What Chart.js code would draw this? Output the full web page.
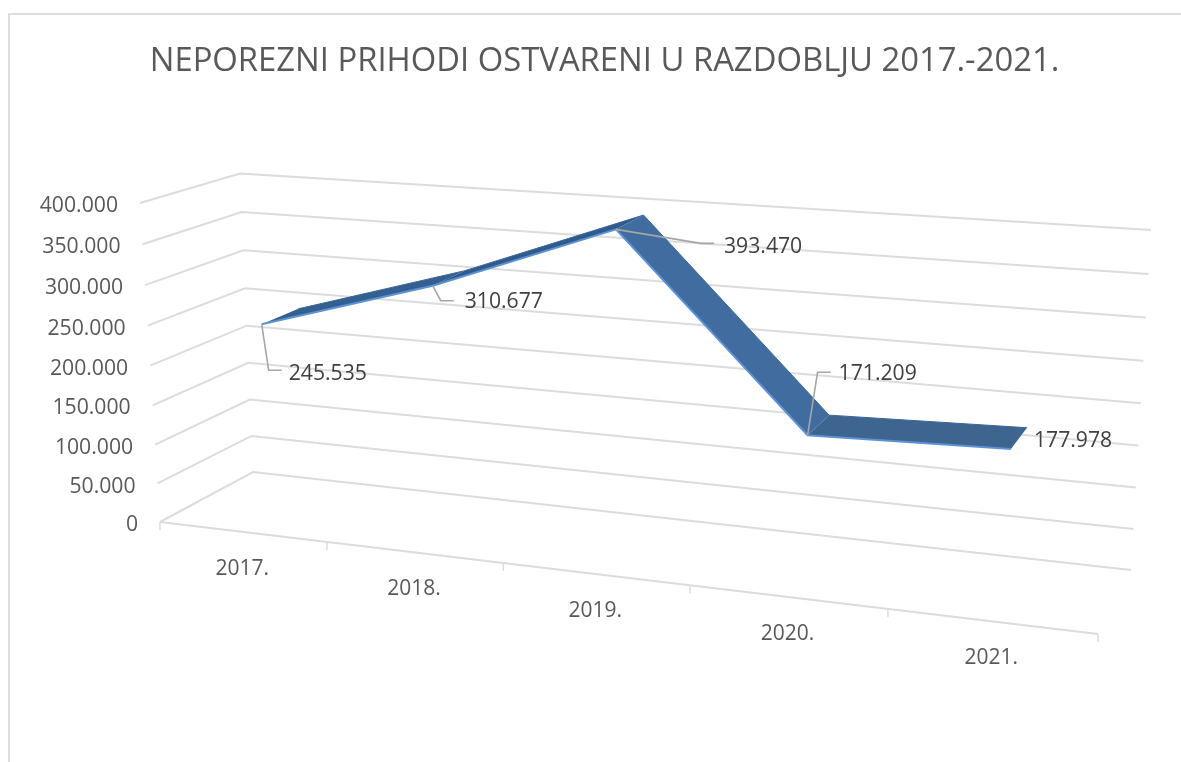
<!DOCTYPE html>
<html>
<head>
<meta charset="utf-8">
<title>Neporezni prihodi</title>
<script src="https://cdn.jsdelivr.net/npm/chart.js@4"></script>
<style>
  html, body { margin: 0; background: #fff; }
  canvas { display: block; }
</style>
</head>
<body>
<canvas id="myChart" width="1181" height="762"></canvas>
<script>
const categories = ['2017.', '2018.', '2019.', '2020.', '2021.'];
const prihodi = [245535, 310677, 393470, 171209, 177978];
const prihodiLabels = ['245.535', '310.677', '393.470', '171.209', '177.978'];
const yTickLabels = ['0', '50.000', '100.000', '150.000', '200.000', '250.000', '300.000', '350.000', '400.000'];

// corners of the 3D box on screen, f = front, b = back
const box = {
  fBottomLeft: [160, 522], fBottomRight: [1098, 634], fTopLeft: [140, 203], fTopRight: [1118, 272],
  bBottomLeft: [253, 472], bBottomRight: [1131, 570], bTopLeft: [240, 173.5], bTopRight: [1151, 230]
};
const perspectiveX = 1.1545;
const perspectiveY = 1.04;

const gridColor = '#dcdcdc';
const leaderColor = '#a6a6a6';
const faceColors = ['#34608f', '#2f5a8b', '#416c9f', '#3e6490'];
const font = '"Open Sans", sans-serif';

// where each data label sits, relative to its point on the front edge
const labelOffsets = [[27, 50], [32, 16], [108, 18], [31, -61], [23, -8]];
// elbow of the leader line, relative to the same point (null = no leader)
const leaderElbows = [[7, 46], [8, 15], [85, 14], [10, -63], null];

function warp(t, r) {
  return t / (t + (1 - t) * r);
}

function lerp(a, b, t) {
  return [a[0] + (b[0] - a[0]) * t, a[1] + (b[1] - a[1]) * t];
}

// u, v, w all 0..1 : along the categories, up the value axis, into the depth
function project(u, v, w) {
  const s = warp(u, perspectiveX);
  const t = warp(v, perspectiveY);
  const front = lerp(lerp(box.fBottomLeft, box.fBottomRight, s), lerp(box.fTopLeft, box.fTopRight, s), t);
  const back = lerp(lerp(box.bBottomLeft, box.bBottomRight, s), lerp(box.bTopLeft, box.bTopRight, s), t);
  return lerp(front, back, w);
}

function line(ctx, pts, color, width) {
  ctx.beginPath();
  ctx.moveTo(pts[0][0], pts[0][1]);
  for (let i = 1; i < pts.length; i++) ctx.lineTo(pts[i][0], pts[i][1]);
  ctx.strokeStyle = color;
  ctx.lineWidth = width;
  ctx.stroke();
}

const perspective3d = {
  id: 'perspective3d',

  // move the points the scales just placed into the 3D box
  afterDatasetUpdate(chart, args) {
    const area = chart.chartArea;
    const depth = chart.data.datasets[args.index].depth;
    const xScale = chart.scales.x;
    const yScale = chart.scales.y;
    args.meta.data.forEach((el, i) => {
      const u = (xScale.getPixelForValue(i) - area.left) / area.width;
      const v = (area.bottom - yScale.getPixelForValue(prihodi[i])) / area.height;
      const p = project(u, v, depth);
      el.x = p[0];
      el.y = p[1];
    });
  },

  beforeDatasetsDraw(chart) {
    const ctx = chart.ctx;
    const yScale = chart.scales.y;
    const n = categories.length;

    // chart frame
    line(ctx, [[9, 762], [9, 14], [1181, 14]], '#dedede', 2);

    // value grid, on left wall and back wall
    ctx.font = '21.2px ' + font;
    ctx.fillStyle = '#595959';
    ctx.textBaseline = 'middle';
    yScale.ticks.forEach((tick) => {
      const v = (tick.value - yScale.min) / (yScale.max - yScale.min);
      const start = project(0, v, 0);
      line(ctx, [start, project(0, v, 1), project(1, v, 1)], gridColor, 2);
      ctx.textAlign = 'right';
      ctx.fillText(tick.label, start[0] - 22, start[1] + 3);
    });

    // category axis along the front of the floor
    line(ctx, [project(0, 0, 0), project(1, 0, 0)], gridColor, 2);
    for (let i = 0; i <= n; i++) {
      const p = project(i / n, 0, 0);
      line(ctx, [p, [p[0], p[1] + 8]], gridColor, 1.5);
    }
    ctx.textAlign = 'center';
    ctx.font = '21px ' + font;
    categories.forEach((label, i) => {
      const p = project((i + 0.5) / n, 0, 0);
      ctx.fillText(label, p[0], p[1] + 37);
    });

    // ribbon between front and back edge, one face per segment
    const front = chart.getDatasetMeta(0).data;
    const back = chart.getDatasetMeta(1).data;
    for (let i = 0; i < n - 1; i++) {
      ctx.beginPath();
      ctx.moveTo(front[i].x, front[i].y);
      ctx.lineTo(front[i + 1].x, front[i + 1].y);
      ctx.lineTo(back[i + 1].x, back[i + 1].y);
      ctx.lineTo(back[i].x, back[i].y);
      ctx.closePath();
      ctx.fillStyle = faceColors[i];
      ctx.fill();
    }
  },

  afterDatasetsDraw(chart) {
    const ctx = chart.ctx;
    const front = chart.getDatasetMeta(0).data;
    ctx.font = '21.2px ' + font;
    ctx.textAlign = 'left';
    ctx.textBaseline = 'middle';
    ctx.fillStyle = '#404040';
    front.forEach((pt, i) => {
      const off = labelOffsets[i];
      const elbow = leaderElbows[i];
      if (elbow) {
        const ex = pt.x + elbow[0];
        const ey = pt.y + elbow[1];
        line(ctx, [[pt.x, pt.y], [ex, ey], [ex + 13, ey]], leaderColor, 1.6);
      }
      ctx.fillText(prihodiLabels[i], pt.x + off[0], pt.y + off[1]);
    });
  }
};

const ctx = document.getElementById('myChart');

new Chart(ctx, {
  type: 'line',
  data: {
    labels: categories,
    datasets: [
      { label: 'Prihodi', data: prihodi, depth: 0.32, borderColor: '#5b93d6', borderWidth: 2, pointRadius: 0, clip: false },
      { label: 'Prihodi (stražnji rub)', data: prihodi, depth: 0.72, borderColor: '#3a6696', borderWidth: 1, pointRadius: 0, clip: false }
    ]
  },
  options: {
    responsive: false,
    animation: false,
    layout: { padding: { left: 28 } },
    plugins: {
      legend: { display: false },
      tooltip: { enabled: false },
      title: {
        display: true,
        fullSize: false,
        text: 'NEPOREZNI PRIHODI OSTVARENI U RAZDOBLJU 2017.-2021.',
        color: '#595959',
        font: { family: font, size: 32.8, weight: 'normal' },
        padding: { top: 42, bottom: 10 }
      }
    },
    scales: {
      x: { display: false, offset: true },
      y: {
        display: false,
        min: 0,
        max: 400000,
        ticks: { stepSize: 50000, callback: (value, i) => yTickLabels[i] }
      }
    }
  },
  plugins: [perspective3d]
});
</script>
</body>
</html>
